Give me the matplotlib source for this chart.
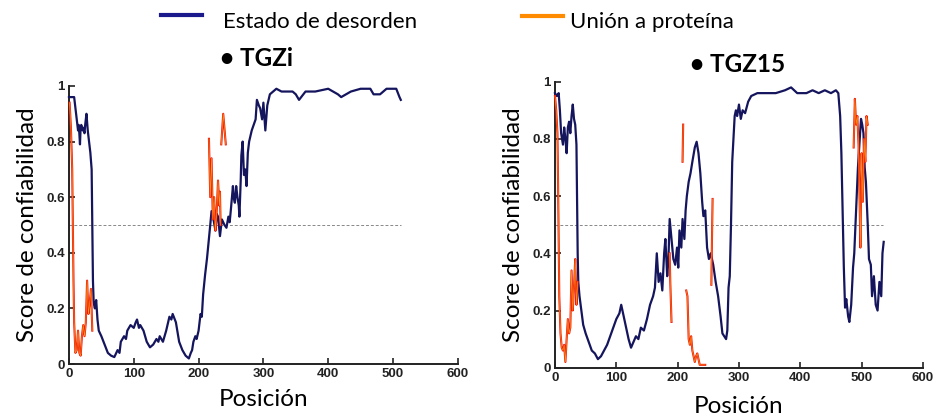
"""
Disorder and protein-binding prediction profiles for TGZi and TGZ15.
"""
import matplotlib
matplotlib.use("Agg")
import matplotlib.pyplot as plt
import numpy as np
from matplotlib.lines import Line2D
from matplotlib.ticker import FuncFormatter

NaN = np.nan

# TGZi - disorder
tgzi_pos = [0, 4, 8, 10, 12, 14, 15, 16, 17, 18, 19, 21, 22, 24, 25, 27, 28, 29, 31, 33, 35,
            36, 37, 38, 39, 40, 42, 44, 46, 50, 55, 60, 65, 70, 75, 78, 80, 85, 88, 90, 95,
            100, 103, 105, 108, 110, 115, 120, 125, 130, 135, 138, 140, 145, 150, 155, 158,
            160, 165, 170, 175, 180, 185, 188, 190, 192, 195, 197, 200, 203, 205, 207, 210,
            213, 216, 218, 220, 223, 226, 228, 230, 233, 236, 240, 243, 246, 248, 250, 253,
            254, 256, 258, 260, 262, 263, 265, 266, 268, 270, 272, 274, 276, 278, 282, 285,
            288, 290, 293, 295, 298, 300, 303, 306, 310, 315, 320, 328, 335, 345, 350, 355,
            365, 380, 400, 415, 420, 435, 450, 465, 470, 480, 490, 505, 510, 512]
tgzi_dis = [0.96, 0.96, 0.96, 0.92, 0.88, 0.84, 0.86, 0.83, 0.79, 0.85, 0.86, 0.84, 0.85,
            0.83, 0.86, 0.90, 0.87, 0.84, 0.80, 0.76, 0.70, 0.50, 0.30, 0.23, 0.21, 0.20,
            0.23, 0.16, 0.12, 0.10, 0.07, 0.04, 0.03, 0.025, 0.05, 0.04, 0.08, 0.10, 0.09,
            0.12, 0.14, 0.13, 0.15, 0.16, 0.13, 0.14, 0.12, 0.08, 0.06, 0.07, 0.09, 0.08,
            0.10, 0.08, 0.12, 0.17, 0.16, 0.18, 0.15, 0.08, 0.05, 0.03, 0.02, 0.04, 0.05,
            0.08, 0.10, 0.09, 0.12, 0.18, 0.17, 0.25, 0.32, 0.38, 0.45, 0.50, 0.55, 0.52,
            0.48, 0.54, 0.53, 0.46, 0.52, 0.50, 0.49, 0.53, 0.51, 0.56, 0.64, 0.60, 0.58,
            0.64, 0.60, 0.57, 0.53, 0.66, 0.75, 0.80, 0.68, 0.70, 0.64, 0.76, 0.80, 0.84,
            0.86, 0.88, 0.95, 0.93, 0.92, 0.88, 0.94, 0.84, 0.93, 0.97, 0.98, 0.99, 0.98,
            0.98, 0.98, 0.97, 0.95, 0.98, 0.98, 0.99, 0.97, 0.96, 0.98, 0.99, 0.99, 0.97,
            0.97, 0.99, 0.99, 0.96, 0.95]

# TGZi - protein binding (NaN separates segments)
tgzi_bind_pos = [1, 3, 5, 6, 7, 8, 10, 12, 14, 16, 18, 20, 22, 24, 26, 28, 30, 32, 34, 36,
                 NaN, 216, 218, 220, 222, 224, 226, 228, 230, 232, 233, 234,
                 NaN, 235, 238, 242]
tgzi_bind = [0.94, 0.85, 0.70, 0.50, 0.30, 0.15, 0.04, 0.05, 0.12, 0.04, 0.03, 0.10, 0.14,
             0.10, 0.15, 0.30, 0.18, 0.22, 0.27, 0.12,
             NaN, 0.81, 0.60, 0.74, 0.52, 0.60, 0.48, 0.55, 0.66, 0.57, 0.62, 0.50,
             NaN, 0.79, 0.90, 0.79]

# TGZ15 - disorder
tgz15_pos = [0, 3, 6, 8, 10, 13, 15, 17, 19, 21, 23, 25, 27, 29, 31, 33, 35, 36, 37, 38,
             40, 43, 46, 50, 55, 60, 65, 70, 75, 80, 85, 90, 95, 100, 105, 108, 112, 116,
             120, 124, 128, 132, 136, 140, 145, 150, 155, 160, 163, 166, 169, 172, 175, 178,
             180, 183, 185, 187, 190, 193, 196, 199, 201, 203, 206, 208, 211, 213, 215, 218,
             221, 224, 228, 231, 234, 237, 240, 242, 245, 248, 251, 254, 258, 262, 266, 270,
             273, 276, 279, 281, 283, 285, 287, 289, 291, 293, 295, 297, 300, 303, 306, 310,
             315, 320, 330, 340, 360, 375, 385, 395, 410, 420, 430, 440, 450, 458, 462, 465,
             467, 469, 471, 473, 475, 478, 480, 483, 486, 488, 491, 494, 497, 499, 501, 503,
             505, 507, 510, 512, 515, 517, 520, 523, 526, 529, 532, 534, 536]
tgz15_dis = [0.96, 0.95, 0.96, 0.90, 0.82, 0.78, 0.84, 0.80, 0.75, 0.84, 0.86, 0.82, 0.88,
             0.92, 0.87, 0.85, 0.78, 0.60, 0.40, 0.30, 0.25, 0.20, 0.15, 0.12, 0.09, 0.06,
             0.05, 0.03, 0.04, 0.06, 0.08, 0.11, 0.14, 0.17, 0.19, 0.22, 0.18, 0.14, 0.10,
             0.07, 0.09, 0.11, 0.10, 0.14, 0.13, 0.17, 0.22, 0.25, 0.28, 0.40, 0.30, 0.33,
             0.27, 0.40, 0.45, 0.32, 0.38, 0.52, 0.45, 0.38, 0.36, 0.42, 0.35, 0.48, 0.42,
             0.52, 0.45, 0.55, 0.60, 0.65, 0.68, 0.72, 0.77, 0.79, 0.75, 0.68, 0.58, 0.53,
             0.55, 0.42, 0.38, 0.40, 0.36, 0.30, 0.25, 0.18, 0.12, 0.11, 0.10, 0.13, 0.28,
             0.32, 0.50, 0.72, 0.80, 0.88, 0.90, 0.88, 0.92, 0.87, 0.90, 0.89, 0.93, 0.95,
             0.96, 0.96, 0.96, 0.97, 0.98, 0.96, 0.96, 0.97, 0.96, 0.97, 0.96, 0.97, 0.96,
             0.88, 0.75, 0.55, 0.35, 0.21, 0.24, 0.18, 0.16, 0.22, 0.35, 0.40, 0.55, 0.70,
             0.80, 0.87, 0.85, 0.82, 0.70, 0.65, 0.50, 0.38, 0.36, 0.25, 0.32, 0.22, 0.20,
             0.30, 0.25, 0.40, 0.44]

# TGZ15 - protein binding (NaN separates segments)
tgz15_bind_pos = [0, 2, 4, 5, 6, 7, 9, 11, 13, 15, 17, 19, 21, 23, 25, 27, 29, 31, 33, 35, 37,
                  NaN, 187, 188, 190,
                  NaN, 208, 209,
                  NaN, 214, 216, 218, 220, 222, 224, 226, 228, 230, 232, 234, 236, 240, 245,
                  NaN, 255, 256, 257,
                  NaN, 487, 489, 491, 493, 495, 497, 498, 500, 502, 504, 506, 508, 510]
tgz15_bind = [0.95, 0.90, 0.82, 0.65, 0.45, 0.25, 0.12, 0.07, 0.06, 0.08, 0.02, 0.10, 0.17,
              0.12, 0.14, 0.34, 0.20, 0.28, 0.38, 0.22, 0.30,
              NaN, 0.40, 0.30, 0.16,
              NaN, 0.72, 0.85,
              NaN, 0.27, 0.25, 0.10, 0.08, 0.11, 0.06, 0.04, 0.02, 0.04, 0.05, 0.03, 0.01,
              0.01, 0.01,
              NaN, 0.29, 0.45, 0.59,
              NaN, 0.77, 0.94, 0.85, 0.88, 0.78, 0.55, 0.42, 0.75, 0.58, 0.80, 0.72, 0.88,
              0.85]

X_TICKS = [0, 100, 200, 300, 400, 500, 600]
Y_TICKS = [0, 0.2, 0.4, 0.6, 0.8, 1]

NAVY = "#15155e"
RED = "#ee1c0c"
ORANGE = "#ff9a1a"
LABEL_FONT = ["Lato", "DejaVu Sans"]


def _style_axes(ax, x_end):
    ax.set_xlim(0, 600)
    ax.set_ylim(0, 1)
    ax.set_xticks(X_TICKS)
    ax.set_yticks(Y_TICKS)
    ax.yaxis.set_major_formatter(FuncFormatter(lambda v, _: f"{v:g}"))
    for side in ("top", "right"):
        ax.spines[side].set_visible(False)
    for side in ("left", "bottom"):
        ax.spines[side].set_linewidth(1.4)
        ax.spines[side].set_color("#222222")
    ax.tick_params(direction="in", length=4, width=1.2, labelsize=9.5, pad=3,
                   colors="#222222")
    for lab in ax.get_xticklabels() + ax.get_yticklabels():
        lab.set_fontfamily("Liberation Sans")
        lab.set_fontweight("bold")
    ax.plot([0, x_end], [0.5, 0.5], ls=(0, (3, 2)), lw=0.7, color="#888888", zorder=1)
    ax.set_ylabel("Score de confiabilidad", fontsize=17.5, family=LABEL_FONT, labelpad=6)


def _draw(ax, pos, dis, bpos, bind):
    ax.plot(pos, dis, color=NAVY, lw=1.6, zorder=3, clip_on=False)
    ax.plot(bpos, bind, color=RED, lw=1.5, zorder=4, clip_on=False)
    ax.plot(bpos, bind, color=ORANGE, lw=0.45, zorder=5, clip_on=False)


def main() -> None:
    fig = plt.figure(figsize=(9.37, 4.2), dpi=100)

    ax1 = fig.add_axes([0.0736, 0.1333, 0.415, 0.662])
    _draw(ax1, tgzi_pos, tgzi_dis, tgzi_bind_pos, tgzi_bind)
    _style_axes(ax1, 512)
    ax1.set_xlabel("Posición", fontsize=17.5, family=LABEL_FONT, labelpad=6)

    ax2 = fig.add_axes([0.5923, 0.1245, 0.3927, 0.681])
    _draw(ax2, tgz15_pos, tgz15_dis, tgz15_bind_pos, tgz15_bind)
    _style_axes(ax2, 535)
    ax2.set_xlabel("Posición", fontsize=17.5, family=LABEL_FONT, labelpad=9)

    # legend at top
    fig.add_artist(Line2D([161 / 937, 202 / 937], [1 - 15 / 420] * 2, color="#1a1a8c", lw=3))
    fig.text(223 / 937, 1 - 22 / 420, "Estado de desorden", fontsize=16, family=LABEL_FONT,
             va="center", ha="left")
    fig.add_artist(Line2D([522 / 937, 563 / 937], [1 - 16 / 420] * 2, color="#ff8c00", lw=3))
    fig.text(570 / 937, 1 - 22 / 420, "Unión a proteína", fontsize=16, family=LABEL_FONT,
             va="center", ha="left")

    # panel titles
    fig.text(220 / 937, 1 - 58 / 420, "• TGZi", fontsize=17.5, fontweight="bold",
             family=LABEL_FONT, va="center", ha="left")
    fig.text(690 / 937, 1 - 65 / 420, "• TGZ15", fontsize=17.5, fontweight="bold",
             family=LABEL_FONT, va="center", ha="left")

    fig.savefig("out.png", dpi=100)
    print("[ok] wrote out.png")


if __name__ == "__main__":
    main()
